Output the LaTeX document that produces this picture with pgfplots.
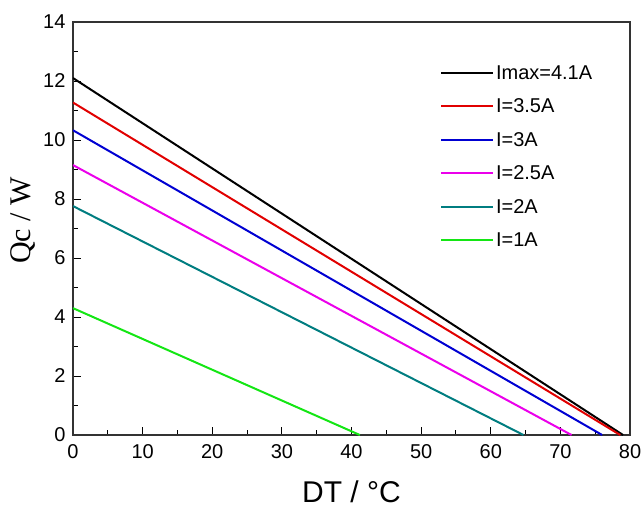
\documentclass[border=0pt]{standalone}
\usepackage{fontspec}
\setmainfont{Liberation Sans}
\newfontfamily\serifont{Liberation Serif}
\usepackage{pgfplots}
\pgfplotsset{compat=1.18}
\definecolor{cRed}{RGB}{225,0,0}
\definecolor{cBlue}{RGB}{0,0,210}
\definecolor{cMag}{RGB}{235,0,235}
\definecolor{cTeal}{RGB}{0,125,128}
\definecolor{cGreen}{RGB}{20,230,20}
\begin{document}
\begin{tikzpicture}
\begin{axis}[
    scale only axis,
    width=557pt, height=413pt,
    xmin=0, xmax=80, ymin=0, ymax=14,
    xtick={0,10,...,80}, ytick={0,2,...,14},
    minor x tick num=1, minor y tick num=1,
    tick align=inside, xtick pos=lower, ytick pos=left,
    major tick length=8pt, minor tick length=5pt,
    tick style={line width=1pt, black},
    axis line style={line width=1.3pt, black!80},
    ticklabel style={font=\fontsize{20}{22}\selectfont},
    xticklabel style={yshift=-6pt},
    yticklabel style={xshift=-4pt},
    /pgf/number format/assume math mode=true,
    xlabel={DT / °C},
    ylabel={{\serifont Qc / W}},
    xlabel style={font=\fontsize{30}{32}\selectfont,
        at={(axis description cs:0.5,0)}, anchor=base, yshift=-67pt},
    ylabel style={font=\fontsize{30}{32}\selectfont,
        at={(axis description cs:0,0.5)}, anchor=center, xshift=8pt, yshift=50pt},
    legend style={at={(0.655,0.905)}, anchor=north west, draw=none, fill=white,
        font=\fontsize{20}{22}\selectfont, row sep=14pt, inner sep=2pt},
    legend cell align=left,
    legend image code/.code={\draw[#1, line width=2pt] (0pt,0pt) -- (52pt,0pt);},
    every axis plot/.append style={line width=2pt},
]
\addplot[black] coordinates {(0,12.1) (79.0,0)};
\addplot[cRed] coordinates {(0,11.27) (78.6,0)};
\addplot[cBlue] coordinates {(0,10.33) (76.0,0)};
\addplot[cMag] coordinates {(0,9.15) (71.6,0)};
\addplot[cTeal] coordinates {(0,7.76) (64.7,0)};
\addplot[cGreen] coordinates {(0,4.3) (41.2,0)};
\legend{Imax=4.1A, I=3.5A, I=3A, I=2.5A, I=2A, I=1A}
\coordinate (sw) at (rel axis cs:0,0);
\coordinate (ne) at (rel axis cs:1,1);
\end{axis}
\pgfresetboundingbox
\path ([shift={(-73pt,-72pt)}]sw) rectangle ([shift={(11pt,22pt)}]ne);
\end{tikzpicture}
\end{document}
